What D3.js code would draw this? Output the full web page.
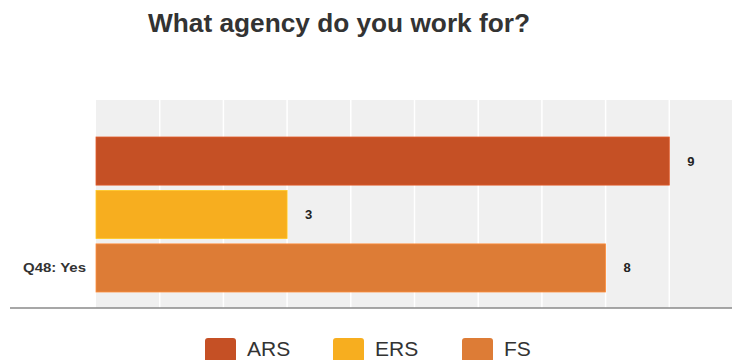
<!DOCTYPE html>
<html>
<head>
<meta charset="utf-8">
<script src="https://cdn.jsdelivr.net/npm/d3@7"></script>
<style>
  body { margin: 0; background: #fff; }
  svg { display: block; font-family: "Liberation Sans", Arial, sans-serif; }
</style>
</head>
<body>
<div id="chart"></div>
<script>
// data
const categories = ['Q48: Yes'];
const series = ['ARS', 'ERS', 'FS'];
const values = [9, 3, 8];
const colors = ['#c55025', '#f7ae1f', '#dd7c36'];
const xTicks = [0, 1, 2, 3, 4, 5, 6, 7, 8, 9, 10];

const width = 732, height = 360;
const plot = { left: 96, right: 733, top: 100, bottom: 308 };

const svg = d3.select('#chart')
    .append('svg')
    .attr('width', width)
    .attr('height', height);

const x = d3.scaleLinear()
    .domain([0, 10])
    .range([plot.left, plot.right]);

const y = d3.scaleBand()
    .domain(series)
    .range([137, 292])
    .paddingInner(0.1);

// plot background
svg.append('rect')
    .attr('x', plot.left)
    .attr('y', plot.top)
    .attr('width', plot.right - plot.left)
    .attr('height', plot.bottom - plot.top)
    .attr('fill', '#f0f0f0');

// vertical grid
svg.append('g')
    .selectAll('line')
    .data(xTicks.slice(1))
    .enter()
    .append('line')
    .attr('x1', d => x(d))
    .attr('x2', d => x(d))
    .attr('y1', plot.top)
    .attr('y2', plot.bottom)
    .attr('stroke', '#fff')
    .attr('stroke-width', 1.5);

// bars
svg.append('g')
    .selectAll('rect')
    .data(series)
    .enter()
    .append('rect')
    .attr('x', x(0))
    .attr('y', d => y(d))
    .attr('width', (d, i) => x(values[i]) - x(0))
    .attr('height', y.bandwidth())
    .attr('fill', (d, i) => colors[i])
    .attr('stroke', (d, i) => d3.color(colors[i]).brighter(0.4))
    .attr('stroke-width', 0.8);

// value labels
svg.append('g')
    .selectAll('text')
    .data(series)
    .enter()
    .append('text')
    .attr('x', (d, i) => x(values[i]) + 18)
    .attr('y', d => y(d) + y.bandwidth() / 2)
    .attr('dy', '0.35em')
    .attr('font-size', '13px')
    .attr('font-weight', 'bold')
    .attr('fill', '#222')
    .text((d, i) => values[i]);

// category label (aligned to last bar like the original)
svg.append('text')
    .attr('x', 23)
    .attr('y', y(series[2]) + y.bandwidth() / 2)
    .attr('dy', '0.35em')
    .attr('font-size', '13px')
    .attr('font-weight', 'bold')
    .attr('fill', '#333')
    .attr('textLength', 63)
    .attr('lengthAdjust', 'spacingAndGlyphs')
    .text(categories[0]);

// baseline
svg.append('line')
    .attr('x1', 10)
    .attr('x2', width)
    .attr('y1', plot.bottom)
    .attr('y2', plot.bottom)
    .attr('stroke', '#8a8a8a')
    .attr('stroke-width', 1.5);

// title
svg.append('text')
    .attr('x', 148)
    .attr('y', 32)
    .attr('font-size', '26px')
    .attr('font-weight', 'bold')
    .attr('fill', '#333')
    .attr('textLength', 382)
    .attr('lengthAdjust', 'spacingAndGlyphs')
    .text('What agency do you work for?');

// legend
const legendX = [205, 333, 462];
const legend = svg.append('g')
    .selectAll('g')
    .data(series)
    .enter()
    .append('g')
    .attr('transform', (d, i) => `translate(${legendX[i]}, 338)`);

legend.append('rect')
    .attr('width', 31)
    .attr('height', 24)
    .attr('rx', 3)
    .attr('fill', (d, i) => colors[i]);

legend.append('text')
    .attr('x', 42)
    .attr('y', 18)
    .attr('font-size', '21px')
    .attr('fill', '#333')
    .text(d => d);
</script>
</body>
</html>
